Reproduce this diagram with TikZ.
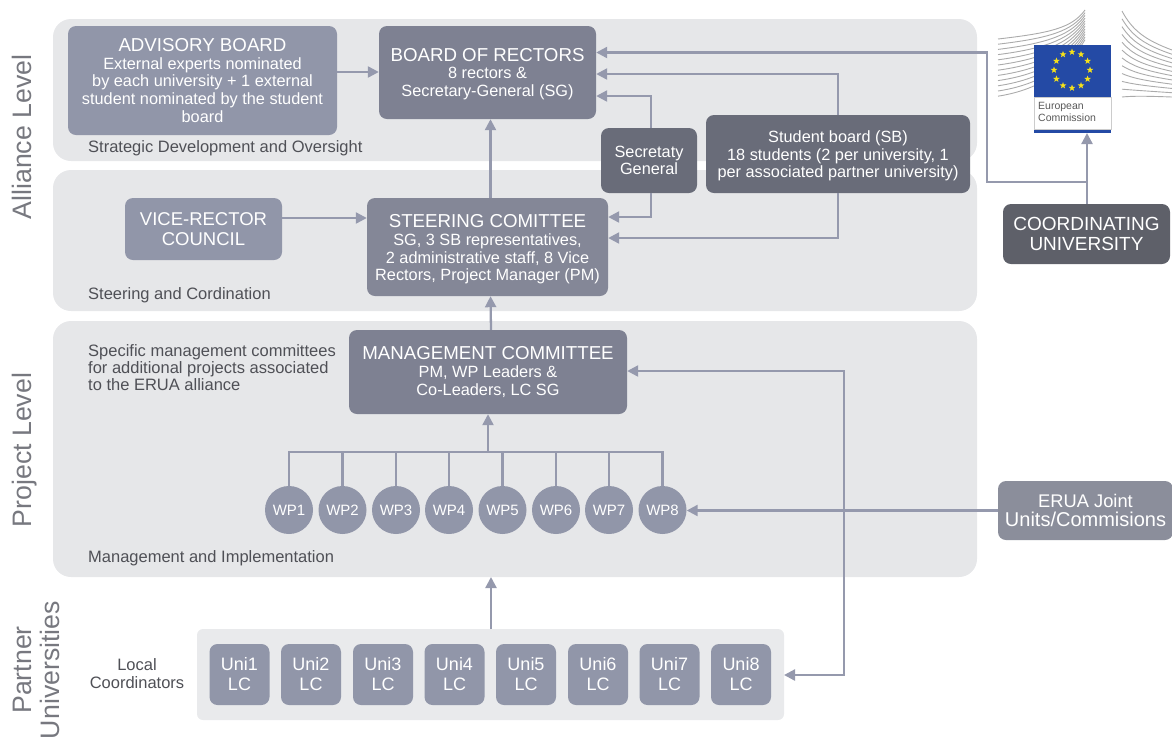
\documentclass[tikz,border=0pt]{standalone}
\usepackage{fontspec}
\setmainfont{Liberation Sans}
\usetikzlibrary{arrows.meta,shapes.geometric,calc}
\definecolor{band}{HTML}{E6E7E9}
\definecolor{tray}{HTML}{E9EAEC}
\definecolor{linec}{HTML}{9599AD}
\definecolor{boxa}{HTML}{9196A9}
\definecolor{boxb}{HTML}{7E8192}
\definecolor{boxc}{HTML}{696C79}
\definecolor{boxd}{HTML}{5E6069}
\definecolor{boxe}{HTML}{8B8E9B}
\definecolor{boxf}{HTML}{848797}
\definecolor{capt}{HTML}{4F5056}
\definecolor{sidec}{HTML}{77787F}
\definecolor{eublue}{HTML}{244AA5}
\definecolor{eustar}{HTML}{F5E11A}
\definecolor{bld}{HTML}{ABABAB}
\newcommand{\fsb}[2]{\fontsize{#1}{#2}\selectfont}
\newcommand{\ttl}[1]{{\fontsize{18.7}{20}\selectfont #1}}
\tikzset{
  x=1pt,y=-1pt,
  bandbox/.style={fill=band,draw=none,rounded corners=18pt},
  rbox/.style={rounded corners=8pt,draw=none,text=white,align=center,inner sep=0pt,font=\fsb{16.3}{17.6}},
  conn/.style={draw=linec,line width=2.3pt},
  arr/.style={conn,-{Triangle[length=11pt,width=11pt]}},
  darr/.style={conn,{Triangle[length=11pt,width=11pt]}-{Triangle[length=11pt,width=11pt]}},
  wpnode/.style={circle,fill=boxa,text=white,minimum size=48pt,inner sep=0pt,font=\fsb{15}{18}},
  uninode/.style={rbox,fill=boxa,minimum width=60pt,minimum height=61pt,font=\fsb{18}{20}},
  captext/.style={text=capt,anchor=west,inner sep=0pt,align=left,font=\fsb{16.5}{17}},
  sidetext/.style={text=sidec,rotate=90,inner sep=0pt,align=center,font=\fsb{26.7}{28}},
}
\begin{document}
\begin{tikzpicture}
\useasboundingbox (0,0) rectangle (1172,740);
% bands
\fill[bandbox] (53,19) rectangle (977,161);
\fill[bandbox] (53,170) rectangle (977,311);
\fill[bandbox] (53,321) rectangle (977,577);
\fill[tray,rounded corners=6pt] (197,629) rectangle (784,720);
% side labels
\node[sidetext] (lA) at (22,137) {Alliance Level};
\node[sidetext] (lP) at (25,450) {Project Level};
\node[sidetext] (lU) at (36,670) {Partner\\Universities};
% captions
\node[captext] (c1) at (88,148) {Strategic Development and Oversight};
\node[captext] (c2) at (88,295) {Steering and Cordination};
\node[captext] (c3) at (88,558) {Management and Implementation};
\node[captext,anchor=north west] (c4) at (88,344) {Specific management committees\\for additional projects associated\\to the ERUA alliance};
\node[text=capt,align=center,inner sep=0pt,font=\fsb{16.5}{18}] (c5) at (137,674) {Local\\Coordinators};
% EC logo
\begin{scope}[bld,line width=0.9pt]
\foreach \i in {0,...,11}{
  \draw (998,{39+\i*5.2}) .. controls (1050,{33+\i*5}) and (1072,{28+\i*3}) .. (1085,{10+\i*2.7});
  \pgfmathsetmacro{\t}{\i/11}
  \draw (1122,{11+86*\t}) .. controls (1132,{30+66*\t}) and (1145,{40+56*\t}) .. (1172,{50+47*\t});
}
\end{scope}
\fill[white] (1034,45) rectangle (1111,133);
\fill[eublue] (1034,45) rectangle (1111,97);
\fill[eublue] (1034,129) rectangle (1111,133);
\draw[black!20,line width=0.4pt] (1034,97) rectangle (1111,129);
\foreach \a in {0,30,...,330}{
  \node[star,star points=5,star point ratio=2.4,fill=eustar,draw=none,inner sep=0pt,minimum size=7pt] at ({1072+18*cos(\a)},{70+18*sin(\a)}) {};
}
\node[text=black!65,anchor=north west,inner sep=0pt,align=left,font=\fsb{10.5}{12.5}] (ect) at (1038,102) {European\\Commission};
\coordinate (ecb) at (1087,133);
% boxes
\node[rbox,fill=boxa,minimum width=269pt,minimum height=109pt] (adv) at (202.5,80.5) {\ttl{ADVISORY BOARD}\\External experts nominated\\by each university + 1 external\\student nominated by the student\\board};
\node[rbox,fill=boxb,minimum width=217pt,minimum height=93pt] (rect) at (487.5,72.5) {\rule{0pt}{16pt}\ttl{BOARD OF RECTORS}\\8 rectors \&\\Secretary-General (SG)};
\node[rbox,fill=boxc,minimum width=96pt,minimum height=65pt] (sg) at (649,160.5) {Secretaty\\General};
\node[rbox,fill=boxc,minimum width=264pt,minimum height=78pt] (sb) at (838,154) {\rule{0pt}{16pt}Student board (SB)\\18 students (2 per university, 1\\per associated partner university)};
\node[rbox,fill=boxf,minimum width=241pt,minimum height=98pt] (steer) at (487.5,247) {\rule{0pt}{18pt}\ttl{STEERING COMITTEE}\\SG, 3 SB representatives,\\2 administrative staff, 8 Vice\\Rectors, Project Manager (PM)};
\node[rbox,fill=boxa,minimum width=157pt,minimum height=62pt,font=\fsb{18.5}{20}] (vice) at (203.5,229) {VICE-RECTOR\\COUNCIL};
\node[rbox,fill=boxd,minimum width=167pt,minimum height=60pt,font=\fsb{19}{20}] (coord) at (1086.5,234) {COORDINATING\\UNIVERSITY};
\node[rbox,fill=boxb,minimum width=278pt,minimum height=84pt] (mgmt) at (488,372) {\ttl{MANAGEMENT COMMITTEE}\\PM, WP Leaders \&\\Co-Leaders, LC SG};
\node[rbox,fill=boxe,minimum width=175pt,minimum height=59pt,font=\fsb{18.3}{19.5}] (erua) at (1085.5,510.5) {ERUA Joint\\{\fontsize{20}{20}\selectfont Units/Commisions}};
% WP nodes
\foreach \n/\x in {1/289,2/342.5,3/396,4/449,5/502.5,6/556,7/609,8/662.5}{
  \node[wpnode] (wp\n) at (\x,510) {WP\n};
}
% Uni nodes
\foreach \n/\x in {1/239.5,2/311,3/383,4/454.5,5/526,6/598,7/669.5,8/741}{
  \node[uninode] (u\n) at (\x,674.5) {Uni\n\\LC};
}
% connectors
\coordinate (bus) at (488,452);
\draw[conn] (wp1.north) |- (bus) -| (wp8.north);
\foreach \n in {2,...,7}{\draw[conn] (wp\n.north) -- (wp\n.north |- bus);}
\draw[arr] (bus) -- (mgmt.south -| bus);
\draw[arr] ([xshift=3pt]mgmt.north) -- ([xshift=3pt]steer.south);
\draw[arr] ([xshift=3pt]steer.north) -- ([xshift=3pt]rect.south);
\draw[arr] (vice.east |- 0,218) -- (steer.west |- 0,218);
\draw[arr] (adv.east |- 0,72) -- (rect.west |- 0,72);
\draw[arr] (erua.west) -- (wp8.east |- erua.west);
\draw[arr] (651,128) |- (rect.east |- 0,96);
\draw[arr] (sb.north) |- (rect.east |- 0,74);
\draw[arr] (651,193) |- (steer.east |- 0,217);
\draw[arr] (sb.south) |- (steer.east |- 0,238);
\draw[arr] (coord.north -| ecb) -- (ecb);
\coordinate (j) at (1087,182);
\draw[arr] (j) -- (987,182) -- (987,52.5) -- (rect.east |- 0,52.5);
\coordinate (traytop) at (491,629);
\coordinate (bandbot) at (491,577);
\draw[arr] (traytop) -- (bandbot);
\coordinate (trayr) at (784,675);
\draw[darr] (mgmt.east |- 0,371) -| (844,675) -- (trayr);
\end{tikzpicture}
\end{document}
